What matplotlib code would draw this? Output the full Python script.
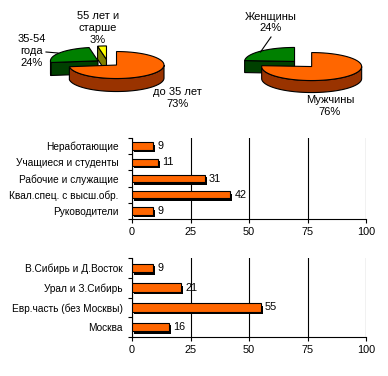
import numpy as np
import matplotlib
matplotlib.use("Agg")
import matplotlib.pyplot as plt
from matplotlib import transforms
from matplotlib.patches import Polygon

plt.rcParams['font.family'] = ['Liberation Sans', 'DejaVu Sans']

# ---------------- data ----------------
age_labels = ['до 35 лет\n73%', '35-54\nгода\n24%', '55 лет и\nстарше\n3%']
age_values = [73, 24, 3]
age_top_colors = ['#FF6600', '#008000', '#FFFF00']
age_side_colors = ['#993300', '#004000', '#808000']

sex_labels = ['Мужчины\n76%', 'Женщины\n24%']
sex_values = [76, 24]
sex_top_colors = ['#FF6600', '#008000']
sex_side_colors = ['#993300', '#004000']

occ_labels = ['Неработающие', 'Учащиеся и студенты', 'Рабочие и служащие',
              'Квал.спец. с высш.обр.', 'Руководители']
occ_values = [9, 11, 31, 42, 9]

reg_labels = ['В.Сибирь и Д.Восток', 'Урал и З.Сибирь', 'Евр.часть (без Москвы)', 'Москва']
reg_values = [9, 21, 55, 16]

x_ticks = [0, 25, 50, 75, 100]

W, H = 388, 376
fig = plt.figure(figsize=(W / 100, H / 100), dpi=100)
fig.patch.set_facecolor('white')

# ---------------- 3D pies ----------------
pax = fig.add_axes([0, 0, 1, 1])
pax.set_xlim(0, W)
pax.set_ylim(H, 0)
pax.axis('off')


def arc(cx, cy, rx, ry, t1, t2, n=60):
    ts = np.radians(np.linspace(t1, t2, n))
    return np.column_stack([cx + rx * np.cos(ts), cy - ry * np.sin(ts)])


def pie3d(ax, values, tops, sides, cx, cy, rx, ry, depth, explode):
    total = float(sum(values))
    a = 90.0
    slices = []
    for v, tc, sc in zip(values, tops, sides):
        a2 = a
        a1 = a - 360.0 * v / total
        a = a1
        mid = np.radians((a1 + a2) / 2)
        ox = cx + explode * rx * np.cos(mid)
        oy = cy - explode * ry * np.sin(mid)
        slices.append((a1, a2, ox, oy, tc, sc))
    side_polys = []
    top_polys = []
    for a1, a2, ox, oy, tc, sc in slices:
        for ang, vis in ((a1, np.cos(np.radians(a1)) > 1e-6),
                         (a2, np.cos(np.radians(a2)) < -1e-6)):
            if vis:
                rim = arc(ox, oy, rx, ry, ang, ang, 1)[0]
                side_polys.append((oy, [[ox, oy], rim, [rim[0], rim[1] + depth],
                                        [ox, oy + depth]], sc))
        for lo, hi in ((-180, 0), (180, 360)):
            s, e = max(a1, lo), min(a2, hi)
            if e > s:
                top_arc = arc(ox, oy, rx, ry, s, e)
                bot = top_arc[::-1].copy()
                bot[:, 1] += depth
                side_polys.append((oy + 100, np.vstack([top_arc, bot]), sc))
        top_polys.append(np.vstack([[ox, oy], arc(ox, oy, rx, ry, a1, a2)]))
    for _, p, c in sorted(side_polys, key=lambda t: t[0]):
        ax.add_patch(Polygon(p, closed=True, facecolor=c, edgecolor='black',
                             lw=0.8, joinstyle='miter'))
    for p, s in zip(top_polys, slices):
        ax.add_patch(Polygon(p, closed=True, facecolor=s[4], edgecolor='black',
                             lw=0.8, joinstyle='miter'))


pie3d(pax, age_values, age_top_colors, age_side_colors,
      107.6, 62.8, 47.5, 13.5, 13, 0.25)
pie3d(pax, sex_values, sex_top_colors, sex_side_colors,
      303.1, 64.0, 50, 14, 12, 0.25)

fs = 8
pax.text(177.5, 98, age_labels[0], ha='center', va='center', fontsize=fs, linespacing=1.25)
pax.text(32, 51, age_labels[1], ha='center', va='center', fontsize=fs, linespacing=1.2)
pax.text(98, 28, age_labels[2], ha='center', va='center', fontsize=fs, linespacing=1.2)
pax.plot([46, 58], [52, 53], color='black', lw=0.8)

pax.text(330, 106, sex_labels[0], ha='center', va='center', fontsize=fs, linespacing=1.25)
pax.text(271, 22.5, sex_labels[1], ha='center', va='center', fontsize=fs, linespacing=1.2)
pax.plot([271, 260.5], [37, 52], color='black', lw=0.8)

bfs = 7.3


# ---------------- bar charts ----------------
def bar_chart(rect, labels, values, bh, lpad):
    ax = fig.add_axes(rect)
    n = len(labels)
    y = np.arange(n)
    shadow_tr = transforms.offset_copy(ax.transData, fig=fig, x=2, y=-2.5, units='dots')
    ax.barh(y, values, height=bh, color='black', transform=shadow_tr, zorder=2)
    ax.barh(y, values, height=bh, color='#FF6600', edgecolor='black', lw=0.8, zorder=3)
    for yi, v in zip(y, values):
        ax.annotate(str(v), (v, yi), xytext=(3.0, 0), textcoords='offset points',
                    va='center', ha='left', fontsize=bfs + 0.5, zorder=4)
    ax.set_xlim(0, 100)
    ax.set_ylim(n - 0.5, -0.5)
    ax.set_xticks(x_ticks)
    ax.set_xticklabels([str(t) for t in x_ticks], fontsize=bfs + 0.5)
    ax.xaxis.grid(True, color='black', lw=0.8)
    ax.set_axisbelow(True)
    ax.set_yticks(np.arange(-0.5, n, 1.0))
    ax.set_yticklabels([])
    ax.set_yticks(y, minor=True)
    ax.set_yticklabels(labels, minor=True, fontsize=bfs)
    ax.tick_params(axis='y', which='major', length=3, width=0.8, direction='out')
    ax.tick_params(axis='y', which='minor', length=0, pad=lpad)
    ax.tick_params(axis='x', length=3, width=0.8, direction='out', pad=3)
    for s in ('top', 'right'):
        ax.spines[s].set_visible(False)
    for s in ('left', 'bottom'):
        ax.spines[s].set_linewidth(0.8)
    ax.set_facecolor('none')
    return ax


bar_chart([132 / W, (H - 219) / H, 234 / W, 81 / H], occ_labels, occ_values, 0.45, 9.5)
bar_chart([132 / W, (H - 337) / H, 234 / W, 79 / H], reg_labels, reg_values, 0.42, 6.5)

fig.savefig('out.png', dpi=100, facecolor='white')
